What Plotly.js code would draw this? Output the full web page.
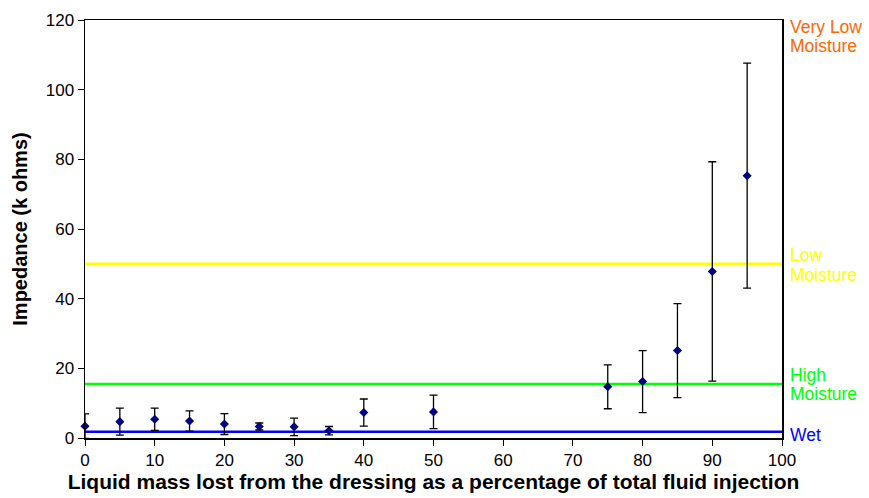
<!DOCTYPE html>
<html>
<head>
<meta charset="utf-8">
<script src="https://cdn.plot.ly/plotly-3.0.1.min.js"></script>
<style>html,body{margin:0;padding:0;background:#fff;}#chart{width:869px;height:498px;}</style>
</head>
<body>
<div id="chart"></div>
<script>
// Data
const massLost = [0, 5, 10, 15, 20, 25, 30, 35, 40, 50, 75, 80, 85, 90, 95];
const impedance = [3.4, 4.7, 5.4, 4.9, 4.0, 3.3, 3.2, 2.1, 7.3, 7.5, 14.7, 16.2, 25.1, 47.8, 75.3];
const errorBar = [3.5, 3.9, 3.2, 2.9, 3.0, 1.0, 2.5, 1.2, 3.9, 4.8, 6.3, 8.9, 13.5, 31.5, 32.3];

const thresholdValues = [1.8, 15.5, 50];
const thresholdColors = ["#0000FF", "#00FF00", "#FFFF00"];
// Right-hand zone labels (split into lines)
const labelNames = [["Wet"], ["High", "Moisture"], ["Low", "Moisture"], ["Very Low", "Moisture"]];
const labelPositions = [0.8, 15.4, 49.6, 115.3];
const labelColors = ["#0000FF", "#00FF00", "#FFFF00", "#FF6600"];
const xRange = [0, 100];

const traces = [];
thresholdValues.forEach((v, i) => {
  traces.push({
    type: 'scatter', mode: 'lines',
    x: xRange, y: [v, v],
    line: {color: thresholdColors[i], width: 2.5},
    hoverinfo: 'skip', showlegend: false
  });
});
traces.push({
  type: 'scatter', mode: 'markers',
  x: massLost, y: impedance,
  marker: {symbol: 'diamond', size: 7, color: '#000080'},
  error_y: {type: 'data', array: errorBar, visible: true, color: '#000000', thickness: 1.3, width: 4},
  cliponaxis: false, showlegend: false
});

const lineGap = 19.5;
const annotations = [];
labelNames.forEach((lines, i) => {
  lines.forEach((t, j) => {
    const shift = ((lines.length - 1) / 2 - j) * lineGap;
    annotations.push({
      text: t, xref: 'paper', yref: 'y', x: 1, y: labelPositions[i],
      xanchor: 'left', yanchor: 'middle', xshift: 6, yshift: shift, align: 'left',
      showarrow: false, font: {family: 'Arial, Liberation Sans, sans-serif', size: 17.5, color: labelColors[i]}
    });
  });
});

const layout = {
  width: 869, height: 498,
  margin: {l: 85, r: 87, t: 20, b: 60},
  paper_bgcolor: '#ffffff', plot_bgcolor: '#ffffff',
  font: {family: 'Arial, Liberation Sans, sans-serif', size: 17, color: '#000000'},
  showlegend: false,
  xaxis: {
    range: [0, 100], tickmode: 'linear', tick0: 0, dtick: 10,
    showgrid: false, zeroline: false,
    showline: true, linecolor: '#000000', linewidth: 1.5, mirror: true,
    ticks: 'outside', ticklen: 6, tickcolor: '#000000',
    title: {text: '<b>Liquid mass lost from the dressing as a percentage of total fluid injection</b>', font: {size: 21}, standoff: 4}
  },
  yaxis: {
    range: [0, 120], tickmode: 'linear', tick0: 0, dtick: 20,
    showgrid: false, zeroline: false,
    showline: true, linecolor: '#000000', linewidth: 1.5, mirror: true,
    ticks: 'outside', ticklen: 6, tickcolor: '#000000',
    title: {text: '<b>Impedance (k ohms)</b>', font: {size: 20}, standoff: 12}
  },
  annotations: annotations
};

Plotly.newPlot('chart', traces, layout, {displayModeBar: false, staticPlot: true});
</script>
</body>
</html>
